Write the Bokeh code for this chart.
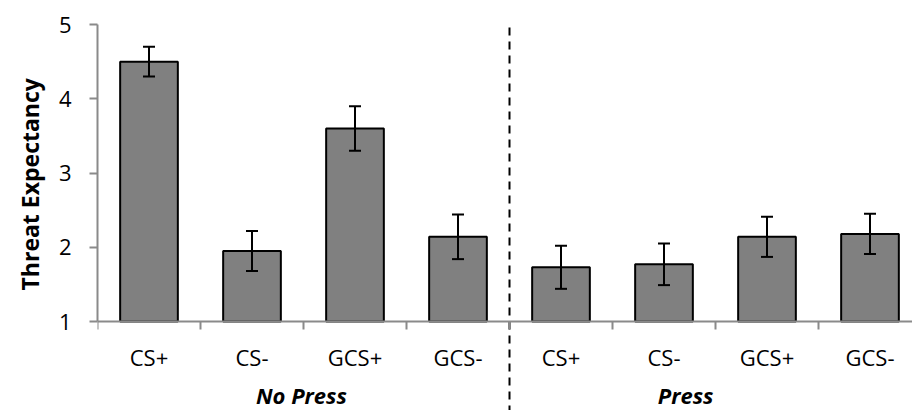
from bokeh.plotting import figure
from bokeh.models import (ColumnDataSource, Range1d, FixedTicker, Whisker, TeeHead, Title)
from bokeh.core.properties import value
from bokeh.embed import file_html
from bokeh.resources import INLINE

# ---- data ----
categories = ["CS+", "CS-", "GCS+", "GCS-", "CS+", "CS-", "GCS+", "GCS-"]
groups = ["No Press", "Press"]
means = [4.50, 1.95, 3.60, 2.14, 1.73, 1.77, 2.14, 2.18]
errors = [0.20, 0.27, 0.30, 0.30, 0.29, 0.28, 0.27, 0.27]
y_ticks = [1, 2, 3, 4, 5]
y_title = "Threat Expectancy"

n = len(categories)
xc = [i + 0.5 for i in range(n)]
src = ColumnDataSource(dict(
    x=xc, top=means,
    upper=[m + e for m, e in zip(means, errors)],
    lower=[m - e for m, e in zip(means, errors)],
))

PX_X = 103.0
PX_Y = 74.25
LEFT = 97
W, H = 912, 410
y_lo, y_hi = 1, 5
x_end = (W - LEFT) / PX_X
y_end = y_hi + 24 / PX_Y
y_start = y_lo - (H - 321) / PX_Y

p = figure(width=W, height=H, output_backend="svg", toolbar_location=None,
           x_range=Range1d(0, x_end), y_range=Range1d(y_start, y_end),
           min_border_left=LEFT, min_border_right=0, min_border_top=0,
           min_border_bottom=0)
p.outline_line_color = None
p.grid.visible = False
p.background_fill_color = "white"
p.border_fill_color = "white"

AXC = "#8a8a8a"
FONT = "Open Sans"

# bars
p.vbar(x="x", top="top", bottom=y_lo, width=0.56, source=src,
       fill_color="#808080", line_color="black", line_width=2)

# error bars
wh = Whisker(base="x", upper="upper", lower="lower", source=src,
             line_color="black", line_width=2, level="overlay",
             upper_head=TeeHead(size=12, line_color="black", line_width=2),
             lower_head=TeeHead(size=12, line_color="black", line_width=2))
p.add_layout(wh)

# separator between groups
split = len(categories) // 2
p.segment(x0=[split], x1=[split], y0=[y_hi - 0.04], y1=[y_start],
          line_color="black", line_width=2, line_dash="8 6")

# y axis
ya = p.yaxis[0]
ya.ticker = FixedTicker(ticks=y_ticks, minor_ticks=[])
ya.bounds = (y_lo, y_hi)
ya.axis_line_color = AXC
ya.axis_line_width = 2
ya.major_tick_line_color = AXC
ya.major_tick_line_width = 2
ya.major_tick_out = 8
ya.major_tick_in = 0
ya.minor_tick_line_color = None
ya.major_label_text_font = FONT
ya.major_label_text_font_size = "22px"
ya.major_label_text_color = "black"
ya.major_label_standoff = 18

# y title (side title, so it can sit centred on the axis span)
p.add_layout(Title(text=y_title, align="left", offset=120,
                   text_font=FONT, text_font_style="bold",
                   text_font_size="23px", text_color="black", standoff=20),
             "left")

# x axis
xa = p.xaxis[0]
xa.fixed_location = y_lo
xa.ticker = FixedTicker(ticks=xc, minor_ticks=list(range(n + 1)))
xa.bounds = (0, x_end)
xa.axis_line_color = AXC
xa.axis_line_width = 2
xa.major_tick_line_color = None
xa.major_tick_out = 8
xa.major_tick_in = 0
xa.minor_tick_line_color = AXC
xa.minor_tick_line_width = 2
xa.minor_tick_out = 8
xa.minor_tick_in = 0
xa.major_label_overrides = {x: c for x, c in zip(xc, categories)}
xa.major_label_text_font = FONT
xa.major_label_text_font_size = "22px"
xa.major_label_text_color = "black"
xa.major_label_standoff = 12

# group labels
group_label_x = [1.98, 5.71]
p.text(x=group_label_x, y=[y_lo - 73.5 / PX_Y] * 2, text=groups,
       text_font=value(FONT), text_font_style="bold italic",
       text_font_size="22px", text_align="center", text_baseline="middle",
       text_color="black")

open("out.html", "w").write(file_html(p, INLINE))
